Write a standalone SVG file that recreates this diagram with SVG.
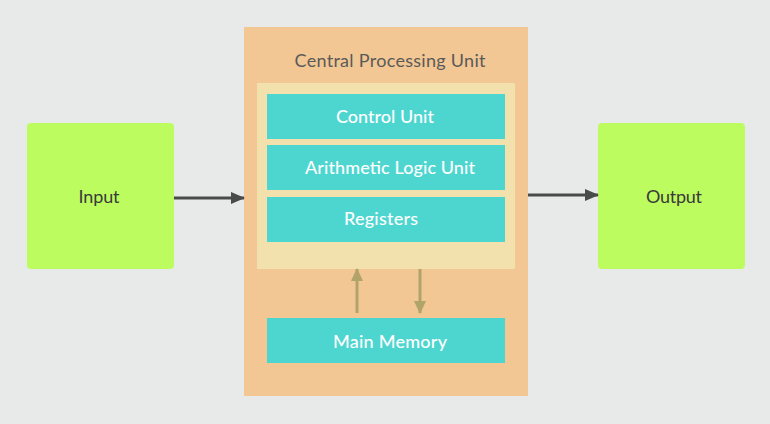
<svg xmlns="http://www.w3.org/2000/svg" width="770" height="424" viewBox="0 0 770 424">
<defs>
<style>
.io{fill:#bdfc5f;}
.cy{fill:#4dd6d0;}
.lbl{font-family:Lato,"Open Sans",sans-serif;font-size:18px;text-anchor:middle;}
.dk{fill:#3a3a3a;}
.wt{fill:#ffffff;font-weight:500;}
.ar{stroke:#4a4a4a;stroke-width:3;fill:none;}
.ol{stroke:#b0a46a;stroke-width:3;fill:none;}
</style>
<marker id="ah" viewBox="0 0 14 12" refX="13" refY="6" markerWidth="14" markerHeight="12" markerUnits="userSpaceOnUse" orient="auto">
<path d="M0,0 L14,6 L0,12 Z" fill="#4a4a4a"/>
</marker>
<marker id="ao" viewBox="0 0 13 12" refX="12" refY="6" markerWidth="13" markerHeight="12" markerUnits="userSpaceOnUse" orient="auto">
<path d="M0,0 L13,6 L0,12 Z" fill="#b0a46a"/>
</marker>
</defs>
<rect x="0" y="0" width="770" height="424" fill="#e8eaea"/>
<g id="input">
<rect class="io" x="27" y="123" width="147" height="146" rx="4"/>
<text class="lbl dk" x="99" y="203" textLength="41">Input</text>
</g>
<g id="cpu">
<rect x="244" y="27" width="284" height="369" fill="#f2c793"/>
<text class="lbl" x="390" y="67" fill="#5a5a5a" textLength="191">Central Processing Unit</text>
<rect x="257" y="83" width="258" height="186" fill="#f3e1ad"/>
</g>
<g id="control-unit">
<rect class="cy" x="267" y="94" width="238" height="45"/>
<text class="lbl wt" x="385" y="123" textLength="98">Control Unit</text>
</g>
<g id="alu">
<rect class="cy" x="267" y="145" width="238" height="45"/>
<text class="lbl wt" x="390" y="174" textLength="170">Arithmetic Logic Unit</text>
</g>
<g id="registers">
<rect class="cy" x="267" y="197" width="238" height="45"/>
<text class="lbl wt" x="381" y="225" textLength="74">Registers</text>
</g>
<g id="main-memory">
<rect class="cy" x="267" y="318" width="238" height="45"/>
<text class="lbl wt" x="390" y="348" textLength="114">Main Memory</text>
</g>
<g id="output">
<rect class="io" x="598" y="123" width="147" height="146" rx="4"/>
<text class="lbl dk" x="674" y="203" textLength="56">Output</text>
</g>
<g id="connectors">
<line class="ar" x1="174" y1="198" x2="244" y2="198" marker-end="url(#ah)"/>
<line class="ar" x1="528" y1="195" x2="598" y2="195" marker-end="url(#ah)"/>
<line class="ol" x1="357" y1="313" x2="357" y2="269" marker-end="url(#ao)"/>
<line class="ol" x1="420" y1="269" x2="420" y2="313" marker-end="url(#ao)"/>
</g>
</svg>
